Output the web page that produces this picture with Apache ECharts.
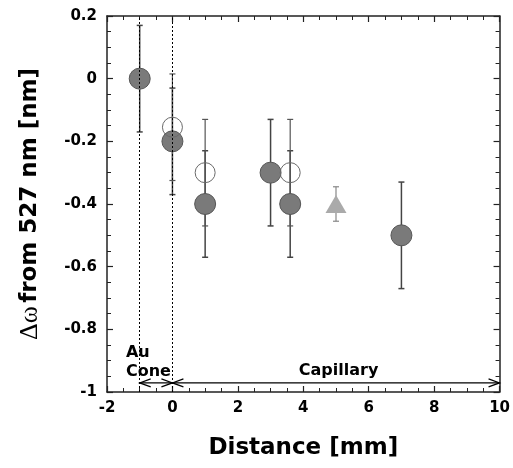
<!DOCTYPE html>
<html>
<head>
<meta charset="utf-8">
<script src="https://cdn.jsdelivr.net/npm/echarts@6/dist/echarts.min.js"></script>
<style>
  html, body { margin: 0; padding: 0; background: #fff; }
  #main { width: 513px; height: 468px; }
</style>
</head>
<body>
<div id="main"></div>
<script>
// filled circles
const filledX = [-1, 0, 1, 3, 3.6, 7];
const filledY = [0, -0.2, -0.4, -0.3, -0.4, -0.5];
const filledErr = [0.17, 0.17, 0.17, 0.17, 0.17, 0.17];
// open circles
const openX = [0, 1, 3.6];
const openY = [-0.155, -0.3, -0.3];
const openErr = [0.17, 0.17, 0.17];
// triangle
const triX = [5];
const triY = [-0.4];
const triErr = [0.055];
// region borders and arrows
const regionBounds = [-1, 0];
const arrowSpans = [[-1, 0], [0, 10]];
const arrowLevel = -0.971;
const regionNames = ['Au\nCone', 'Capillary'];

const FONT = 'DejaVu Sans';

function zip3(a, b, c) {
  return a.map((v, i) => [v, b[i], c[i]]);
}

// error bar renderer
function errRender(color, w) {
  return function (params, api) {
    const x = api.value(0), y = api.value(1), e = api.value(2);
    const top = api.coord([x, y + e]);
    const bot = api.coord([x, y - e]);
    const cap = 3;
    const st = { stroke: color, lineWidth: w };
    return {
      type: 'group',
      children: [
        { type: 'line', shape: { x1: top[0], y1: top[1], x2: bot[0], y2: bot[1] }, style: st },
        { type: 'line', shape: { x1: top[0] - cap, y1: top[1], x2: top[0] + cap, y2: top[1] }, style: st },
        { type: 'line', shape: { x1: bot[0] - cap, y1: bot[1], x2: bot[0] + cap, y2: bot[1] }, style: st }
      ]
    };
  };
}

const chart = echarts.init(document.getElementById('main'));

const axisLineStyle = { color: '#222', width: 1.5 };
const tickStyle = { inside: true, length: 6, lineStyle: { color: '#222', width: 1.2 } };
const minorStyle = { show: true, splitNumber: 4, length: 4, lineStyle: { color: '#222', width: 1 } };

const option = {
  animation: false,
  grid: { left: 107, right: 11, top: 16, bottom: 76 },
  xAxis: [{
    type: 'value', min: -2, max: 10, interval: 2,
    name: 'Distance [mm]', nameLocation: 'middle', nameGap: 45,
    nameTextStyle: { fontFamily: FONT, fontWeight: 'bold', fontSize: 23, color: '#000' },
    axisLine: { onZero: false, lineStyle: axisLineStyle },
    axisTick: tickStyle, minorTick: minorStyle,
    splitLine: { show: false },
    axisLabel: { margin: 9, fontFamily: FONT, fontWeight: 'bold', fontSize: 15, color: '#000' }
  }, {
    type: 'value', position: 'top', min: -2, max: 10, interval: 2,
    axisLine: { onZero: false, lineStyle: axisLineStyle },
    axisTick: tickStyle, minorTick: minorStyle,
    splitLine: { show: false }, axisLabel: { show: false }
  }],
  yAxis: [{
    type: 'value', min: -1, max: 0.2, interval: 0.2,
    name: '{a|Δω} {b|from 527 nm [nm]}', nameLocation: 'middle', nameGap: 64, nameRotate: 90,
    nameTextStyle: {
      rich: {
        a: { fontFamily: 'Liberation Serif', fontSize: 26, color: '#000' },
        b: { fontFamily: FONT, fontWeight: 'bold', fontSize: 23, color: '#000' }
      }
    },
    axisLine: { onZero: false, lineStyle: axisLineStyle },
    axisTick: tickStyle, minorTick: minorStyle,
    splitLine: { show: false },
    axisLabel: {
      margin: 10, fontFamily: FONT, fontWeight: 'bold', fontSize: 15, color: '#000',
      formatter: v => String(parseFloat(v.toFixed(1)))
    }
  }, {
    type: 'value', position: 'right', min: -1, max: 0.2, interval: 0.2,
    axisLine: { onZero: false, lineStyle: axisLineStyle },
    axisTick: tickStyle, minorTick: minorStyle,
    splitLine: { show: false }, axisLabel: { show: false }
  }],
  series: [
    {
      type: 'custom', name: 'filledErr', z: 2,
      renderItem: errRender('#444', 1.5),
      data: zip3(filledX, filledY, filledErr),
      markLine: {
        silent: true, symbol: 'none', label: { show: false },
        lineStyle: { color: '#000', type: [2, 2], width: 1 },
        data: regionBounds.map(v => ({ xAxis: v }))
      }
    },
    {
      type: 'custom', name: 'openErr', z: 2,
      renderItem: errRender('#555', 1.2),
      data: zip3(openX, openY, openErr)
    },
    {
      type: 'custom', name: 'triErr', z: 2,
      renderItem: errRender('#888', 1.2),
      data: zip3(triX, triY, triErr)
    },
    {
      type: 'scatter', name: 'filled', z: 3,
      symbol: 'circle', symbolSize: 21,
      itemStyle: { color: '#7a7a7a', borderColor: '#555', borderWidth: 1, opacity: 1 },
      data: filledX.map((x, i) => [x, filledY[i]])
    },
    {
      type: 'scatter', name: 'open', z: 4,
      symbol: 'circle', symbolSize: 20,
      itemStyle: { color: 'rgba(255,255,255,0)', borderColor: '#6a6a6a', borderWidth: 1, opacity: 1 },
      data: openX.map((x, i) => [x, openY[i]])
    },
    {
      type: 'scatter', name: 'tri', z: 3,
      symbol: 'triangle', symbolSize: [21, 18],
      itemStyle: { color: '#aaaaaa', opacity: 1 },
      data: triX.map((x, i) => [x, triY[i]])
    },
    {
      // double-headed arrows marking the regions
      type: 'custom', name: 'arrows', z: 5,
      renderItem: function (params, api) {
        const a = api.coord([api.value(0), arrowLevel]);
        const b = api.coord([api.value(1), arrowLevel]);
        const st = { stroke: '#000', lineWidth: 1.2, fill: null };
        const L = 11, H = 4;
        return {
          type: 'group',
          children: [
            { type: 'line', shape: { x1: a[0], y1: a[1], x2: b[0], y2: b[1] }, style: st },
            { type: 'polyline', shape: { points: [[a[0] + L, a[1] - H], [a[0], a[1]], [a[0] + L, a[1] + H]] }, style: st },
            { type: 'polyline', shape: { points: [[b[0] - L, b[1] - H], [b[0], b[1]], [b[0] - L, b[1] + H]] }, style: st }
          ]
        };
      },
      data: arrowSpans
    },
    {
      type: 'custom', name: 'labels', z: 6,
      renderItem: function (params, api) {
        const p = api.coord([api.value(0), api.value(1)]);
        const i = params.dataIndex;
        return {
          type: 'text', x: p[0], y: p[1],
          style: {
            text: regionNames[i],
            font: 'bold 16px "' + FONT + '"',
            fill: '#000',
            align: i === 0 ? 'left' : 'center',
            verticalAlign: 'middle',
            lineHeight: 19
          }
        };
      },
      data: [[-1.42, -0.905], [5.08, -0.931]]
    }
  ]
};

chart.setOption(option);
</script>
</body>
</html>
